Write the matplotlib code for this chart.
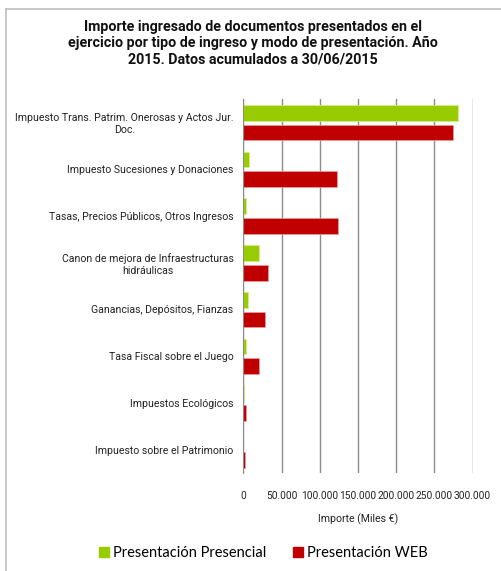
import matplotlib
matplotlib.use("Agg")
import matplotlib.pyplot as plt
from matplotlib.lines import Line2D
from matplotlib.patches import Patch
import numpy as np

categories = [
    "Impuesto Trans. Patrim. Onerosas y Actos Jur.\nDoc.",
    "Impuesto Sucesiones y Donaciones",
    "Tasas, Precios Públicos, Otros Ingresos",
    "Canon de mejora de Infraestructuras\nhidráulicas",
    "Ganancias, Depósitos, Fianzas",
    "Tasa Fiscal sobre el Juego",
    "Impuestos Ecológicos",
    "Impuesto sobre el Patrimonio",
]
presencial = [281000, 7000, 4000, 20000, 6500, 3100, 500, 0]
web = [275000, 123000, 123600, 32700, 28000, 20100, 3100, 1800]
series_names = ["Presentación Presencial", "Presentación WEB"]
xticks = [0, 50000, 100000, 150000, 200000, 250000, 300000]
xtick_labels = ["0", "50.000", "100.000", "150.000", "200.000", "250.000", "300.000"]
title = ("Importe ingresado de documentos presentados en el\n"
         "ejercicio por tipo de ingreso y modo de presentación. Año\n"
         "2015. Datos acumulados a 30/06/2015")
xlabel = "Importe (Miles €)"

GREEN = "#99CC00"
RED = "#C00000"
narrow = ["Roboto", "DejaVu Sans"]

W, H = 502, 571
fig = plt.figure(figsize=(W / 100, H / 100), dpi=100)
ax = fig.add_axes([243.3 / W, 1 - 473 / H, (472.5 - 243.3) / W, (473 - 99) / H])

y = np.arange(len(categories))
bh = 0.335
ax.barh(y - 0.205, presencial, height=bh, color=GREEN, edgecolor="#d6f08a", linewidth=0.5, zorder=3)
ax.barh(y + 0.215, web, height=bh, color=RED, edgecolor="#e8a0a0", linewidth=0.5, zorder=3)

ax.set_xlim(0, 300000)
ax.set_ylim(len(categories) - 0.5, -0.5)
ax.set_xticks(xticks)
ax.set_xticklabels(xtick_labels, family=narrow, fontsize=7.3, color="#222222")
ax.set_yticks(y)
ax.set_yticklabels(categories, family=narrow, fontsize=7.6, color="#222222",
                   multialignment="center")
ax.tick_params(axis="y", length=0, pad=7)
ax.tick_params(axis="x", length=0, pad=13)
ax.grid(axis="x", color="#8c8c8c", linewidth=1.0, zorder=0)
for s in ["top", "right", "bottom"]:
    ax.spines[s].set_visible(False)
ax.spines["left"].set_color("#8c8c8c")
ax.spines["left"].set_zorder(4)

ax.set_xlabel(xlabel, family=narrow, fontsize=7.6, color="#222222", labelpad=9)

fig.text(0.503, 1 - 43 / H, title, ha="center", va="center", family=narrow,
         fontsize=10.3, fontweight="bold", linespacing=1.2, color="#111111")

handles = [Patch(facecolor=GREEN, edgecolor=GREEN), Patch(facecolor=RED, edgecolor=RED)]
fig.legend(handles, series_names, loc="center", bbox_to_anchor=(263.5 / W, 1 - 553 / H),
           ncol=2, frameon=False, prop={"family": ["Lato", "DejaVu Sans"], "size": 10.5},
           handlelength=0.65, handleheight=0.65, handletextpad=0.3, columnspacing=1.86)

border = "#bfbfbf"
fig.add_artist(Line2D([6 / W, 6 / W], [0, 1 - 9 / H], color=border, linewidth=1.2))
fig.add_artist(Line2D([6 / W, 1], [1 - 9 / H, 1 - 9 / H], color=border, linewidth=1.2))

fig.savefig("out.png", dpi=100)
